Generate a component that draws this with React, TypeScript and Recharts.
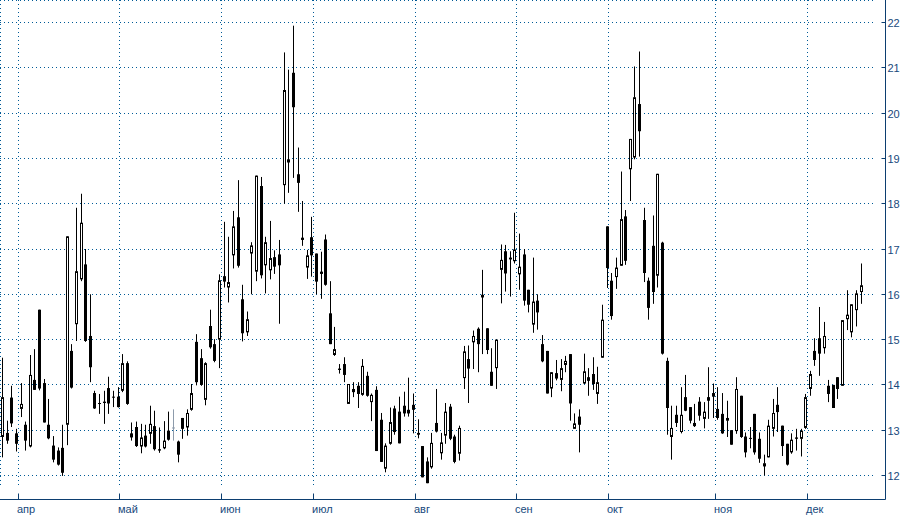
import React from 'react';
import { ComposedChart, Bar, XAxis, YAxis, CartesianGrid } from 'recharts';

// ---- data ----
const OPEN = [
  12.85, 12.94, 13.72, 12.93,
  13.47, 13.12, 12.64, 14.11, 15.66, 14.04, 13.12, 12.66, 12.55, 12.61, 13.12, 14.75, 15.34, 16.33, 16.66, 15.08, 13.82, 13.6, 13.6, 13.93, 13.74, 13.74,
  13.87, 14.48, 12.93, 13.07, 12.64, 12.88, 12.92, 13.09, 12.58, 12.6, 12.99, 13.06, 12.75, 13.27, 13.06, 13.45, 14.95, 14.59, 13.67, 15.3, 14.9, 15.0,
  16.4, 16.15, 16.86, 17.7, 15.89, 15.16, 16.9, 16.5, 18.39, 16.64, 16.53, 16.82, 16.88, 18.41, 18.98, 20.89, 18.65, 17.25, 16.59, 17.26,
  16.9, 16.5, 17.21, 15.58, 14.66, 14.36, 14.46, 13.58, 13.91, 13.98, 13.78, 14.2, 13.62, 13.89, 13.23, 12.15, 12.7, 13.48, 13.41, 13.54, 13.45, 13.56,
  12.9, 12.65, 12.31, 12.18, 13.16, 12.49, 12.88, 13.52, 12.86, 12.48, 14.15, 14.57, 14.94, 15.24, 15.99, 15.25, 14.29, 14.37, 16.54, 16.95, 16.81, 16.73,
  16.44, 16.88, 16.1, 15.33, 15.86, 14.9, 14.75, 13.92, 14.26, 14.11, 14.44, 14.68, 13.03, 13.3, 14.03, 14.17, 14.24, 13.8, 14.6, 17.5,
  16.3, 16.38, 16.63, 17.72, 18.76, 19.02, 20.2, 17.64, 16.3, 17.07, 16.41, 17.14, 14.53, 12.85, 13.34, 12.96, 13.73, 13.51, 13.16, 13.63, 13.25, 13.73, 13.82,
  13.47, 13.36, 13.21, 13.0, 12.98, 13.76, 12.86, 12.83, 13.36, 12.81, 12.2, 12.4, 13.03, 13.56, 13.1, 12.7, 12.51, 12.84, 12.81, 13.05,
  13.91, 14.75, 15.03, 14.81, 13.98, 14.0, 14.17, 13.98, 15.45, 15.16, 15.65, 16.05,
];
const HIGH = [
  14.6, 13.21, 13.98, 13.03,
  14.04, 13.19, 14.66, 14.79, 15.66, 14.13, 13.69, 12.87, 12.62, 13.12, 17.28, 14.9, 17.91, 18.22, 17.0, 16.0, 13.87, 13.8, 13.87, 14.18, 13.87, 13.95,
  14.68, 14.52, 13.17, 13.19, 13.14, 13.12, 13.54, 13.43, 13.06, 13.2, 13.41, 13.46, 12.77, 13.27, 13.46, 14.02, 15.12, 14.79, 14.5, 15.66, 15.01, 16.44,
  17.6, 17.27, 17.84, 18.52, 16.21, 15.62, 17.15, 18.62, 18.59, 17.27, 17.62, 16.97, 17.2, 21.34, 20.96, 21.93, 19.24, 18.06, 16.98, 17.71,
  16.9, 16.94, 17.32, 16.29, 15.28, 14.46, 14.61, 14.02, 14.06, 14.06, 14.57, 14.29, 13.81, 13.97, 13.38, 12.71, 13.5, 13.54, 13.74, 13.85, 14.16, 13.81,
  13.24, 12.65, 12.4, 12.94, 13.91, 12.94, 13.6, 13.58, 12.9, 13.1, 14.86, 14.87, 15.2, 15.27, 16.54, 15.25, 14.81, 15.0, 17.1, 17.09, 16.95, 17.8,
  17.34, 17.0, 16.1, 16.81, 16.0, 15.1, 14.75, 14.28, 14.55, 14.57, 14.64, 14.68, 13.37, 13.46, 14.69, 14.37, 14.61, 14.4, 15.77, 17.5,
  16.47, 16.81, 18.71, 17.86, 19.43, 21.03, 21.36, 17.91, 16.37, 17.74, 18.66, 17.16, 14.6, 13.54, 13.54, 13.95, 14.22, 13.51, 13.58, 13.73, 13.62, 14.39, 14.03,
  13.95, 13.82, 13.65, 13.0, 14.17, 13.76, 12.95, 13.07, 13.36, 12.95, 12.46, 13.23, 13.69, 13.95, 13.1, 12.7, 12.93, 13.03, 13.03, 13.8,
  14.31, 15.03, 15.72, 15.39, 14.11, 14.0, 14.17, 15.43, 16.09, 15.78, 16.09, 16.68,
];
const LOW = [
  12.4, 12.7, 13.07, 12.53,
  13.29, 12.55, 12.62, 13.89, 13.88, 13.17, 12.8, 12.29, 12.22, 11.99, 12.67, 13.92, 14.97, 16.29, 14.95, 14.06, 13.47, 13.36, 13.14, 13.36, 13.51, 13.5,
  13.84, 13.56, 12.77, 12.63, 12.49, 12.62, 12.7, 12.55, 12.5, 12.58, 12.77, 12.77, 12.29, 12.81, 12.88, 13.43, 13.99, 13.98, 13.55, 14.8, 14.5, 14.37,
  16.15, 15.82, 16.57, 16.59, 14.96, 15.08, 16.0, 16.29, 16.35, 16.02, 16.33, 16.45, 15.35, 18.0, 18.24, 18.57, 17.82, 17.07, 16.34, 16.39,
  16.0, 15.9, 16.19, 14.9, 14.64, 14.25, 14.06, 13.58, 13.73, 13.49, 13.76, 13.74, 13.2, 12.54, 12.3, 12.07, 12.68, 12.9, 12.71, 13.3, 13.3, 12.93,
  12.82, 11.96, 11.83, 12.15, 12.95, 12.35, 12.7, 12.78, 12.27, 12.33, 13.91, 13.6, 14.35, 14.28, 14.68, 14.68, 13.98, 13.91, 15.8, 16.06, 15.95, 16.68,
  16.1, 15.75, 15.6, 15.15, 15.22, 14.5, 13.81, 13.73, 14.1, 13.86, 14.28, 13.21, 13.03, 12.51, 14.02, 13.76, 13.89, 13.58, 14.6, 16.14,
  15.44, 16.12, 16.63, 16.65, 18.06, 18.98, 19.04, 16.27, 15.44, 15.79, 16.15, 14.67, 12.9, 12.35, 13.07, 12.93, 13.42, 13.15, 13.07, 13.21, 13.04, 13.25, 13.27,
  13.23, 12.92, 12.85, 12.68, 12.92, 12.83, 12.4, 12.6, 12.46, 12.28, 12.0, 12.4, 12.86, 12.96, 12.43, 12.22, 12.48, 12.55, 12.42, 13.03,
  13.76, 14.42, 14.2, 14.69, 13.62, 13.49, 13.69, 13.98, 15.21, 15.05, 15.29, 15.79,
];
const CLOSE = [
  13.73, 12.77, 13.15, 12.7,
  13.58, 12.77, 14.22, 13.89, 13.92, 13.17, 12.82, 12.35, 12.24, 12.06, 17.28, 13.94, 16.51, 17.58, 14.97, 14.39, 13.48, 13.58, 13.63, 13.59, 13.72, 13.51,
  14.48, 13.58, 12.84, 12.65, 12.84, 12.64, 13.14, 12.58, 12.55, 12.77, 12.79, 13.06, 12.46, 13.03, 13.38, 13.82, 14.06, 14.0, 14.48, 14.83, 14.53, 16.31,
  16.28, 16.27, 17.5, 16.63, 15.14, 15.45, 17.08, 18.62, 16.42, 17.15, 16.8, 16.61, 16.64, 20.51, 18.91, 20.13, 18.46, 17.2, 16.86, 16.86,
  16.28, 16.45, 16.21, 14.9, 14.79, 14.33, 14.22, 14.02, 13.84, 13.8, 14.42, 13.76, 13.78, 12.54, 12.3, 12.66, 13.18, 12.96, 12.71, 13.37, 13.37, 13.45,
  12.94, 11.96, 11.83, 12.72, 12.97, 12.73, 13.41, 12.81, 12.3, 13.05, 14.74, 14.36, 15.08, 14.9, 15.93, 14.77, 13.98, 15.0, 16.76, 16.46, 16.77, 16.99,
  16.61, 15.86, 15.77, 15.84, 15.6, 14.52, 13.81, 14.28, 14.14, 14.37, 14.53, 13.59, 13.15, 13.12, 14.3, 14.09, 14.02, 14.06, 15.44, 16.58,
  15.52, 16.59, 17.66, 16.74, 19.43, 20.35, 19.6, 16.47, 15.7, 16.05, 18.66, 14.69, 13.49, 13.05, 13.16, 13.34, 13.43, 13.21, 13.09, 13.32, 13.41, 13.65, 13.74,
  13.27, 12.93, 13.27, 12.68, 13.91, 12.85, 12.51, 12.81, 12.51, 12.37, 12.27, 13.1, 13.38, 13.4, 12.65, 12.24, 12.79, 12.81, 12.99, 13.73,
  14.24, 14.55, 14.69, 15.08, 13.8, 13.49, 13.91, 15.43, 15.55, 15.78, 16.02, 16.2,
];
const MONTH_LABELS = ['апр', 'май', 'июн', 'июл', 'авг', 'сен', 'окт', 'ноя', 'дек'];
const MONTH_FIRST_INDEX = [4, 26, 48, 68, 90, 112, 132, 155, 175];
const Y_TICKS = [12, 13, 14, 15, 16, 17, 18, 19, 20, 21, 22];
const GRAY_INDEX = [37];

// ---- derived ----
const data = OPEN.map((o, i) => ({
  i,
  o,
  h: HIGH[i],
  l: LOW[i],
  c: CLOSE[i],
  range: [LOW[i], HIGH[i]],
}));
const monthTicks = MONTH_FIRST_INDEX.map((i) => i - 0.5);
const monthLabel = (v: number) => {
  const k = monthTicks.findIndex((t) => Math.abs(t - v) < 1e-6);
  return k >= 0 ? MONTH_LABELS[k] : '';
};

const AXIS = '#0c3e70';
const TEXT = '#17497c';
const GRID = '#005a96';
const FONT = "'Liberation Sans', Arial, sans-serif";
const GRID_INSET = 12;

const snap = (v: number) => Math.floor(v) + 0.5;

const Candle = (props: any) => {
  const { x, y, width, height, payload } = props;
  if (!payload || height == null || y == null) return null;
  const { o, h, l, c, i } = payload;
  const cx = Math.round(x + width / 2) + 0.5;
  const span = h - l;
  const py = (v: number) => (span > 0 ? y + ((h - v) / span) * height : y);
  const top = py(Math.max(o, c));
  const bot = py(Math.min(o, c));
  const color = GRAY_INDEX.includes(i) ? '#8d9bab' : '#000';
  const bodyH = Math.max(bot - top, 1);
  const up = c > o && bot - top >= 2;
  return (
    <g>
      <line x1={cx} x2={cx} y1={py(h)} y2={py(l)} stroke={color} strokeWidth={1} />
      {up ? (
        <rect x={cx - 1} y={top + 0.5} width={2} height={Math.max(bodyH - 1, 0.5)} fill="#fff" stroke={color} strokeWidth={1} />
      ) : (
        <rect x={cx - 1.5} y={top} width={3} height={bodyH} fill={color} />
      )}
    </g>
  );
};

const HLine = (p: any) => {
  const y = snap(p.y1);
  return <line key={p.key} x1={p.x1} x2={Math.max(p.x1, p.x2 - GRID_INSET)} y1={y} y2={y} stroke={GRID} strokeWidth={1} strokeDasharray="1 3" />;
};
const VLine = (p: any) => {
  const x = snap(p.x1);
  return <line key={p.key} x1={x} x2={x} y1={p.y1} y2={Math.max(p.y1, p.y2 - GRID_INSET)} stroke={GRID} strokeWidth={1} strokeDasharray="1 3" />;
};

const XTick = (props: any) => {
  const { x, y, payload } = props;
  const sx = snap(x);
  return (
    <g>
      <line x1={sx} x2={sx} y1={y - 6} y2={y} stroke={AXIS} strokeWidth={1} />
      <text x={sx - 1.5} y={y + 13.5} fill={TEXT} fontSize={11} fontFamily={FONT}>
        {monthLabel(payload.value)}
      </text>
    </g>
  );
};

const YTick = (props: any) => {
  const { x, y, payload } = props;
  const sy = snap(y);
  return (
    <g>
      <line x1={x - 4} x2={x} y1={sy} y2={sy} stroke={AXIS} strokeWidth={1} />
      <text x={x + 2} y={sy + 4} fill={TEXT} fontSize={11} fontFamily={FONT}>
        {payload.value}
      </text>
    </g>
  );
};

export default function App() {
  return (
    <div style={{ position: 'absolute', left: 0, top: 0, width: 919, height: 518, background: '#fff' }}>
      <ComposedChart
        width={919}
        height={518}
        data={data}
        margin={{ top: 0, right: 0, bottom: 0, left: 0 }}
      >
        <CartesianGrid horizontal={HLine} vertical={VLine} />
        <XAxis
          type="number"
          dataKey="i"
          domain={[-0.4334, 191.44]}
          allowDataOverflow
          ticks={monthTicks}
          interval={0}
          height={18.5}
          tickSize={0}
          tickMargin={0}
          tickLine={false}
          axisLine={{ stroke: AXIS, strokeWidth: 1 }}
          tick={<XTick />}
        />
        <YAxis
          orientation="right"
          type="number"
          domain={[11.47, 22.497]}
          allowDataOverflow
          ticks={Y_TICKS}
          interval={0}
          width={33.5}
          tickSize={0}
          tickMargin={0}
          tickLine={false}
          axisLine={{ stroke: AXIS, strokeWidth: 1 }}
          tick={<YTick />}
        />
        <Bar dataKey="range" shape={<Candle />} isAnimationActive={false} maxBarSize={3} />
      </ComposedChart>
    </div>
  );
}
